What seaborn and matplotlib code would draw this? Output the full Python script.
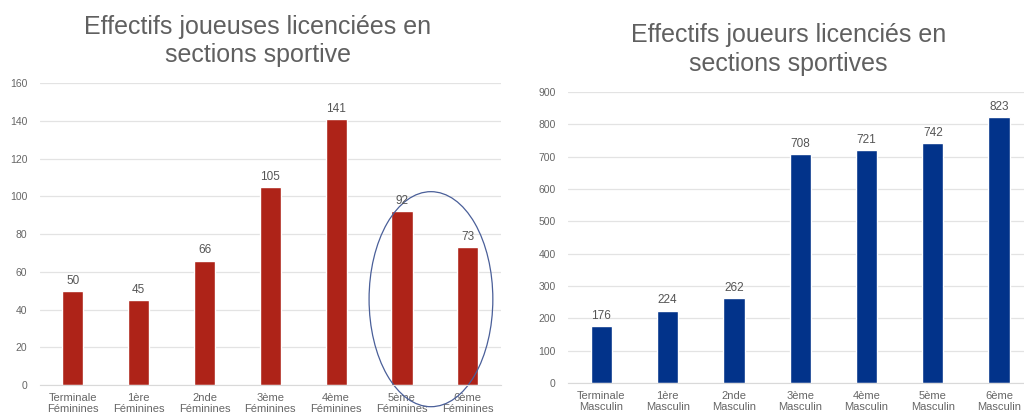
import matplotlib
matplotlib.use("Agg")
import matplotlib.pyplot as plt
from matplotlib.patches import Ellipse
import seaborn as sns

# data
niveaux_f = ["Terminale\nFéminines", "1ère\nFéminines", "2nde\nFéminines", "3ème\nFéminines",
             "4ème\nFéminines", "5ème\nFéminines", "6ème\nFéminines"]
effectifs_f = [50, 45, 66, 105, 141, 92, 73]

niveaux_m = ["Terminale\nMasculin", "1ère\nMasculin", "2nde\nMasculin", "3ème\nMasculin",
             "4ème\nMasculin", "5ème\nMasculin", "6ème\nMasculin"]
effectifs_m = [176, 224, 262, 708, 721, 742, 823]

sns.set_style("white")
plt.rcParams['font.family'] = ['Liberation Sans', 'DejaVu Sans']

fig = plt.figure(figsize=(10.24, 4.16), dpi=100)
ax1 = fig.add_axes([0.039, 0.0745, 0.450, 0.7255])
ax2 = fig.add_axes([0.555, 0.0793, 0.453, 0.6997])

gris = "#666666"


def draw(ax, cats, vals, color, ymax, step, title, title_pos):
    sns.barplot(x=cats, y=vals, color=color, width=0.32, saturation=1, ax=ax)
    ax.set_ylim(0, ymax)
    ax.set_xlim(-0.5, len(cats) - 0.5)
    ax.set_yticks(range(0, ymax + 1, step))
    ax.yaxis.grid(True, color="#e3e3e3", linewidth=0.9)
    ax.set_axisbelow(True)
    for s in ["top", "right", "left"]:
        ax.spines[s].set_visible(False)
    ax.spines["bottom"].set_color("#d9d9d9")
    ax.tick_params(axis="both", length=0, labelcolor=gris)
    ax.tick_params(axis="x", labelsize=8, pad=5.5)
    ax.tick_params(axis="y", labelsize=7.5, pad=9)
    for lab in ax.get_xticklabels():
        lab.set_linespacing(1.15)
    ax.bar_label(ax.containers[0], padding=3, fontsize=8.5, color="#555555")
    ax.set_xlabel("")
    ax.set_ylabel("")
    fig.text(title_pos[0], title_pos[1], title, ha="center", va="center",
             fontsize=18, color="#606060", linespacing=1.22)


draw(ax1, niveaux_f, effectifs_f, "#AE2318", 160, 20,
     "Effectifs joueuses licenciées en\nsections sportive", (0.252, 0.902))
draw(ax2, niveaux_m, effectifs_m, "#02338A", 900, 100,
     "Effectifs joueurs licenciés en\nsections sportives", (0.77, 0.881))

# circle around 5ème / 6ème
ell = Ellipse((5.44, 45.5), 1.88, 114, fill=False, edgecolor="#4a5f99",
              linewidth=0.9, clip_on=False)
ax1.add_patch(ell)

fig.savefig("out.png", dpi=100)
